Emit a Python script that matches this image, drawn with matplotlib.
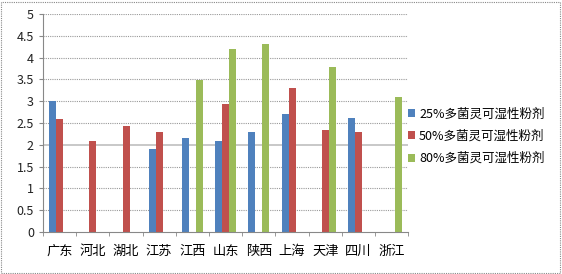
import numpy as np
import matplotlib.pyplot as plt

plt.rcParams['font.family'] = ['Noto Sans CJK SC', 'DejaVu Sans']

provinces = ['广东', '河北', '湖北', '江苏', '江西', '山东', '陕西', '上海', '天津', '四川', '浙江']
s25 = [3.0, 0, 0, 1.9, 2.16, 2.09, 2.29, 2.7, 0, 2.62, 0]
s50 = [2.6, 2.09, 2.44, 2.3, 0, 2.93, 0, 3.3, 2.35, 2.29, 0]
s80 = [0, 0, 0, 0, 3.49, 4.19, 4.31, 0, 3.78, 0, 3.1]
names = ['25%多菌灵可湿性粉剂', '50%多菌灵可湿性粉剂', '80%多菌灵可湿性粉剂']
colors = ['#4F81BD', '#C0504D', '#9BBB59']

fig = plt.figure(figsize=(5.62, 2.74), dpi=100)
ax = fig.add_axes([0.0765, 0.153, 0.65, 0.796])

x = np.arange(len(provinces))
w = 0.21
for i, (vals, nm, c) in enumerate(zip([s25, s50, s80], names, colors)):
    ax.bar(x + (i - 1) * w, vals, w, color=c, label=nm)

ax.set_xlim(-0.5, len(provinces) - 0.5)
ax.set_ylim(0, 5)
ax.set_yticks(np.arange(0, 5.01, 0.5))
ax.set_yticklabels(['0', '0.5', '1', '1.5', '2', '2.5', '3', '3.5', '4', '4.5', '5'])
for yv in np.arange(0.5, 5.01, 0.5):
    if yv == 2:
        ax.axhline(yv, color='#BFBFBF', lw=1.2, zorder=0)
    else:
        ax.axhline(yv, color='#999999', lw=0.8, ls=(0, (1, 1)), zorder=0)

ax.set_xticks(x)
ax.set_xticklabels(provinces, fontsize=9.5)
ax.set_xticks(np.arange(-0.5, len(provinces)), minor=True)
ax.tick_params(axis='x', which='major', length=0, pad=9)
ax.tick_params(axis='x', which='minor', length=3, color='#888888')
ax.tick_params(axis='y', length=3, color='#888888', labelsize=9, labelcolor='#222222')

for s in ['top', 'right']:
    ax.spines[s].set_visible(False)
ax.spines['left'].set_color('#888888')
ax.spines['bottom'].set_color('#888888')

ax.legend(loc='center left', bbox_to_anchor=(0.985, 0.44), frameon=False,
          fontsize=9, handlelength=0.6, handleheight=0.6, handletextpad=0.3,
          labelspacing=0.75, borderaxespad=0.0)

fig.patches.append(plt.Rectangle((0.002, 0.004), 0.995, 0.99, transform=fig.transFigure,
                                 fill=False, ec='#888888', lw=0.8, ls=(0, (1, 1))))

fig.savefig('out.png', dpi=100)
